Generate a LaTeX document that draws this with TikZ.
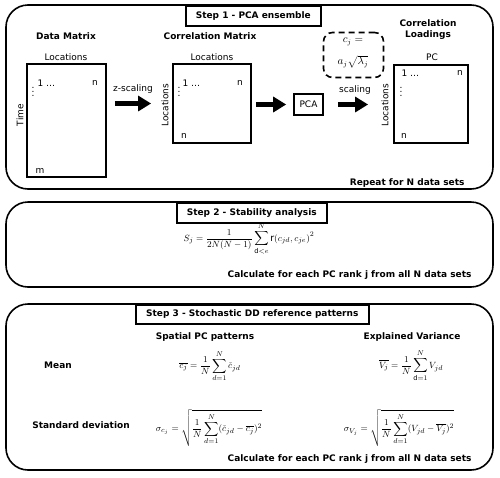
\documentclass[tikz,border=0pt]{standalone}
\usepackage{fontspec}
\setmainfont{DejaVu Sans}
\usetikzlibrary{arrows.meta}
\begin{document}
\begin{tikzpicture}[x=1pt,y=-1pt,
  panel/.style={draw,line width=1.6pt,rounded corners=22pt},
  stepbox/.style={draw,line width=1.6pt,fill=white,font=\fontsize{9}{11}\selectfont\bfseries,inner sep=0pt,anchor=north west},
  head/.style={font=\fontsize{9}{11}\selectfont\bfseries,align=center},
  lbl/.style={font=\fontsize{9}{11}\selectfont},
  mbox/.style={draw,line width=1.8pt,inner sep=0pt},
  bigarrow/.style={line width=5.5pt,-{Triangle[length=13pt,width=15pt]}},
  eq/.style={font=\fontsize{9.5}{11}\selectfont},
  eqb/.style={font=\fontsize{10.5}{13}\selectfont}
]
\useasboundingbox (0,0) rectangle (500,477);

% ---------- Panel 1 ----------
\draw[panel] (6,5) rectangle (493,189);
\node[stepbox,minimum width=135pt,minimum height=20pt] (s1) at (185,5) {Step 1 - PCA ensemble};

\node[head] (hdm) at (66,36) {Data Matrix};
\node[head] (hcm) at (210,36) {Correlation Matrix};
\node[head] (hcl) at (428,30) {Correlation\\Loadings};

\node[mbox,minimum width=79pt,minimum height=113pt] (dm) at (66.5,120.5) {};
\node[lbl] (dmtop) at (66,57) {Locations};
\node[lbl,rotate=90] (dmleft) at (20,115) {Time};
\node[lbl,anchor=west] (dm1) at (34,83) {1 \dots};
\node[lbl] (dmn) at (95,83) {n};
\node[lbl] (dmv) at (33,89) {$\vdots$};
\node[lbl] (dmm) at (40,171) {m};

\node[mbox,minimum width=78pt,minimum height=79pt] (cm) at (212,103.5) {};
\node[lbl] (cmtop) at (212,57) {Locations};
\node[lbl,rotate=90] (cmleft) at (165,105) {Locations};
\node[lbl,anchor=west] (cm1) at (179,83) {1 \dots};
\node[lbl] (cmn) at (240,83) {n};
\node[lbl] (cmv) at (179,89) {$\vdots$};
\node[lbl] (cmn2) at (184,136) {n};

\node[mbox,line width=1.6pt,minimum width=29pt,minimum height=21pt,lbl] (pca) at (308.5,104.5) {PCA};

\node[draw,line width=1.6pt,dashed,dash pattern=on 6pt off 4pt,rounded corners=9pt,minimum width=60pt,minimum height=45pt] (dash) at (353.5,55) {};
\node[eqb] (eq1) at (353,42) {$c_j=$};
\node[eqb] (eq2) at (353,62) {$a_j\sqrt{\lambda_j}$};

\node[mbox,minimum width=74pt,minimum height=78pt] (cl) at (431,104) {};
\node[lbl] (cltop) at (432,57) {PC};
\node[lbl,rotate=90] (clleft) at (385,105) {Locations};
\node[lbl,anchor=west] (cl1) at (398,73) {1 \dots};
\node[lbl] (cln) at (460,73) {n};
\node[lbl] (clv) at (401,89) {$\vdots$};
\node[lbl] (cln2) at (404,136) {n};

\draw[bigarrow,shorten <=8pt,shorten >=21pt] (dm.east |- cm.west) -- (cm.west);
\node[lbl] (zs) at (133,89) {z-scaling};
\draw[bigarrow,shorten <=4pt,shorten >=7pt] (cm.east |- pca.west) -- (pca.west);
\draw[bigarrow,shorten <=14pt,shorten >=25pt] (pca.east) -- (cl.west |- pca.east);
\node[lbl] (sc) at (355,90) {scaling};

\node[head,anchor=east] (rep) at (468,183) {Repeat for N data sets};

% ---------- Panel 2 ----------
\draw[panel] (6,202) rectangle (493,287);
\node[stepbox,minimum width=150pt,minimum height=20pt] (s2) at (176,202) {Step 2 - Stability analysis};
\node[eq] (seq) at (249,239) {$\displaystyle S_j=\frac{1}{2N(N-1)}\sum_{\mathrm{d}<e}^{N}\mathrm{r}(c_{jd},c_{je})^2$};
\node[head,anchor=east] (calc2) at (475,275) {Calculate for each PC rank j from all N data sets};

% ---------- Panel 3 ----------
\draw[panel] (6,304) rectangle (493,470);
\node[stepbox,minimum width=233pt,minimum height=19pt] (s3) at (135,304) {Step 3 - Stochastic DD reference patterns};
\node[head] (hsp) at (205,337) {Spatial PC patterns};
\node[head] (hev) at (412,337) {Explained Variance};
\node[head] (hmean) at (58,365) {Mean};
\node[head] (hstd) at (81,425) {Standard deviation};
\node[eq] (m1) at (210,366) {$\displaystyle \overline{c_j}=\frac{1}{N}\sum_{d=1}^{N}\check{c}_{jd}$};
\node[eq] (m2) at (209,428) {$\displaystyle \sigma_{c_j}=\sqrt{\frac{1}{N}\sum_{d=1}^{N}(\check{c}_{jd}-\overline{c_j})^2}$};
\node[eq] (v1) at (411,366) {$\displaystyle \overline{V_j}=\frac{1}{N}\sum_{\mathrm{d}=1}^{N}V_{jd}$};
\node[eq] (v2) at (399,428) {$\displaystyle \sigma_{V_j}=\sqrt{\frac{1}{N}\sum_{d=1}^{N}(V_{jd}-\overline{V_j})^2}$};
\node[head,anchor=east] (calc3) at (475,459) {Calculate for each PC rank j from all N data sets};
\end{tikzpicture}
\end{document}
